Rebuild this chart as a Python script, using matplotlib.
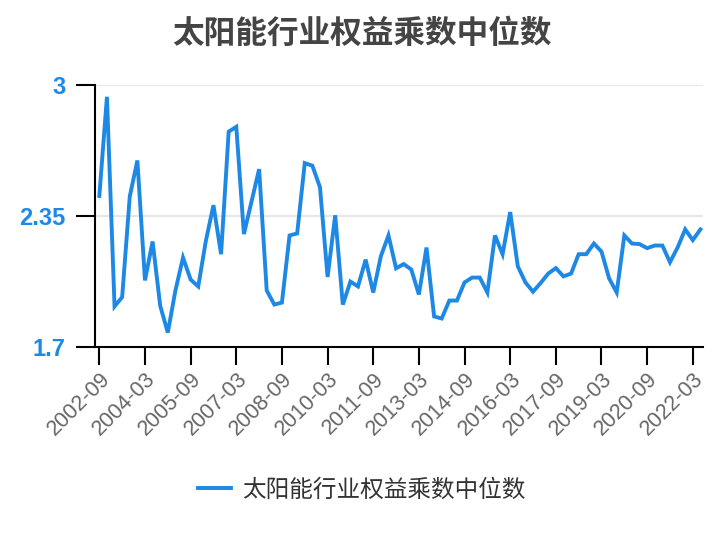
import matplotlib
matplotlib.use("Agg")
import matplotlib.pyplot as plt

plt.rcParams['font.family'] = ['Liberation Sans', 'Noto Sans CJK SC', 'DejaVu Sans']

title = "太阳能行业权益乘数中位数"
series_name = "太阳能行业权益乘数中位数"

# quarterly categories 2002-09 .. 2022-06
categories = []
y, m = 2002, 9
while (y, m) <= (2022, 6):
    categories.append(f"{y}-{m:02d}")
    m += 3
    if m > 12:
        m -= 12
        y += 1

values = [
    2.448, 2.940, 1.900, 1.946, 2.445, 2.624, 2.029, 2.222, 1.903, 1.770,
    1.979, 2.142, 2.033, 1.999, 2.225, 2.402, 2.159, 2.767, 2.791, 2.259,
    2.420, 2.581, 1.979, 1.909, 1.919, 2.252, 2.262, 2.611, 2.598, 2.491,
    2.046, 2.352, 1.909, 2.023, 1.999, 2.132, 1.969, 2.149, 2.252, 2.089,
    2.110, 2.083, 1.959, 2.192, 1.850, 1.840, 1.929, 1.929, 2.019, 2.043,
    2.043, 1.969, 2.252, 2.159, 2.368, 2.099, 2.019, 1.973, 2.016, 2.063,
    2.090, 2.049, 2.063, 2.159, 2.159, 2.212, 2.172, 2.039, 1.969, 2.252,
    2.212, 2.209, 2.189, 2.202, 2.202, 2.119, 2.192, 2.282, 2.229, 2.282,
]

y_ticks = [1.7, 2.35, 3.0]
y_ticklabels = ["1.7", "2.35", "3"]
tick_step = 6

blue = "#1E88E5"

fig = plt.figure(figsize=(7.24, 5.40), dpi=100)
ax = fig.add_axes([95.3 / 724, 1 - 346.7 / 540, 608 / 724, 262 / 540])

x = list(range(len(categories)))
line, = ax.plot(x, values, color=blue, lw=2.8, solid_joinstyle='miter', label=series_name)

ax.set_xlim(-0.53, len(categories) - 1 + 0.38)
ax.set_ylim(1.7, 3.0)

ax.set_yticks(y_ticks)
ax.set_yticklabels(y_ticklabels)
for v in y_ticks[1:]:
    ax.axhline(v, color="#e6e6e6", lw=1.5, zorder=0)

xt = x[::tick_step]
ax.set_xticks(xt)
ax.set_xticklabels([categories[i] for i in xt], rotation=45, ha='right',
                   rotation_mode='anchor', color="#666666", fontsize=15.5)

for s in ['top', 'right']:
    ax.spines[s].set_visible(False)
for s in ['left', 'bottom']:
    ax.spines[s].set_color('black')
    ax.spines[s].set_linewidth(1.5)

ax.tick_params(axis='x', length=13, width=1.5, color='black', pad=3)
ax.tick_params(axis='y', length=13.5, width=1.5, color='black', pad=8)
for lab in ax.get_yticklabels():
    lab.set_color(blue)
    lab.set_fontweight('bold')
    lab.set_fontsize(17)

fig.text(0.5, 1 - 34 / 540, title, ha='center', va='center', fontsize=22.8,
         fontweight='bold', color="#444444", family=['Noto Sans CJK SC', 'DejaVu Sans'])

fig.legend(handles=[line], labels=[series_name], loc='center',
           bbox_to_anchor=(0.5, 1 - 490 / 540), frameon=False,
           handlelength=1.4, handletextpad=0.45,
           prop={'family': ['Noto Sans CJK SC', 'DejaVu Sans'], 'size': 17},
           labelcolor="#333333")

fig.savefig("out.png", dpi=100)
